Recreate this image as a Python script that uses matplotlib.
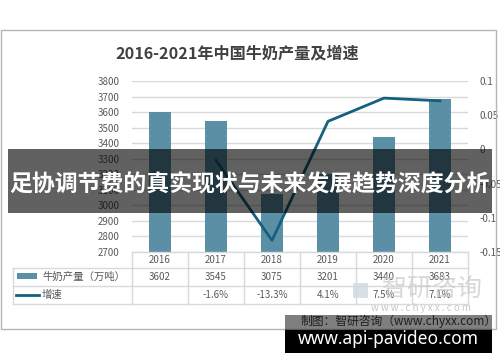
import matplotlib
matplotlib.use("Agg")
import matplotlib.pyplot as plt
from matplotlib.patches import Rectangle
from matplotlib.lines import Line2D
import numpy as np

plt.rcParams["font.family"] = ["Noto Sans CJK SC", "DejaVu Sans"]

# data
years = ["2016", "2017", "2018", "2019", "2020", "2021"]
output = [3602, 3545, 3075, 3201, 3440, 3683]
growth = [None, -0.016, -0.133, 0.041, 0.075, 0.071]
growth_labels = ["", "-1.6%", "-13.3%", "4.1%", "7.5%", "7.1%"]

W, H = 500, 362
BAR_COLOR = "#5b8fa6"
LINE_COLOR = "#14607e"
GRID = "#d9d9d9"
TXT = "#595959"

fig = plt.figure(figsize=(W / 100, H / 100), dpi=100)
fig.patch.set_facecolor("white")


def fx(x):
    return x / W


def fy(y):
    return 1 - y / H


# outer frame of the original chart
fig.add_artist(Rectangle((fx(1), fy(329)), fx(495), (329 - 30) / H, transform=fig.transFigure,
                         fill=False, edgecolor="#b4b4b4", lw=1))

# plot area
L, R, T, B = 132, 468, 81, 252
ax = fig.add_axes([fx(L), fy(B), (R - L) / W, (B - T) / H])
x = np.arange(len(years))
ax.bar(x, output, width=0.4, color=BAR_COLOR, zorder=2)
ax.set_xlim(-0.5, len(years) - 0.5)
ax.set_ylim(2700, 3800)
ax.set_yticks(np.arange(2700, 3801, 100))
ax.yaxis.grid(True, color=GRID, lw=1, zorder=0)
ax.set_xticks([])
for s in ax.spines.values():
    s.set_visible(False)
ax.tick_params(axis="y", length=0, pad=9, labelsize=7, labelcolor=TXT)

ax2 = ax.twinx()
gx = [i for i, g in enumerate(growth) if g is not None]
gy = [g for g in growth if g is not None]
ax2.plot(gx, gy, color=LINE_COLOR, lw=2, zorder=3)
ax2.set_ylim(-0.15, 0.1)
ax2.set_yticks([-0.15, -0.1, -0.05, 0, 0.05, 0.1])
ax2.set_yticklabels(["-0.15", "-0.1", "-0.05", "0", "0.05", "0.1"])
for s in ax2.spines.values():
    s.set_visible(False)
ax2.tick_params(axis="y", length=0, pad=8, labelsize=7, labelcolor=TXT)

# title
fig.text(fx(237), fy(53), "2016-2021年中国牛奶产量及增速", ha="center", va="center",
         fontsize=11.6, fontweight="bold", color="#404040")

# data table
col_w = (R - L) / len(years)
rows = [252, 268, 286, 304]


def hline(y, x0, x1):
    fig.add_artist(Line2D([fx(x0), fx(x1)], [fy(y), fy(y)], transform=fig.transFigure, color=GRID, lw=1))


def vline(xp, y0, y1):
    fig.add_artist(Line2D([fx(xp), fx(xp)], [fy(y0), fy(y1)], transform=fig.transFigure, color=GRID, lw=1))


hline(252, L, R)
for y in rows[1:]:
    hline(y, 13, R)
for k in range(len(years) + 1):
    vline(L + k * col_w, 252, 304)
vline(13, 268, 304)

for i, yr in enumerate(years):
    cx = fx(L + (i + 0.5) * col_w)
    fig.text(cx, fy(260), yr, ha="center", va="center", fontsize=7, color=TXT)
    fig.text(cx, fy(277), str(output[i]), ha="center", va="center", fontsize=7, color=TXT)
    fig.text(cx, fy(295), growth_labels[i], ha="center", va="center", fontsize=7, color=TXT)

fig.add_artist(Rectangle((fx(17), fy(279)), fx(20), 6 / H, transform=fig.transFigure,
                         color=BAR_COLOR, lw=0))
fig.add_artist(Line2D([fx(16), fx(39)], [fy(295), fy(295)], transform=fig.transFigure,
                      color=LINE_COLOR, lw=2))
fig.text(fx(42), fy(277), "牛奶产量（万吨）", ha="left", va="center", fontsize=7.5, color=TXT)
fig.text(fx(42), fy(295), "增速", ha="left", va="center", fontsize=7.5, color=TXT)

# watermark
fig.add_artist(Rectangle((fx(353), fy(298)), fx(15), 15 / H, transform=fig.transFigure,
                         color="#c5d3df", lw=0, alpha=0.7))
fig.text(fx(432), fy(289), "智研咨询", ha="center", va="center", fontsize=18,
         color="#c8c8c8", alpha=0.7)
fig.text(fx(421), fy(308), "w w w . c h y x x . c o m", ha="center", va="center",
         fontsize=7, color="#c8c8c8")

# source note
fig.add_artist(Rectangle((fx(285), fy(330)), fx(207), 15 / H, transform=fig.transFigure,
                         color="black", alpha=0.5, lw=0, zorder=5))
fig.text(fx(497), fy(321), "制图：智研咨询（www.chyxx.com）", ha="right", va="center",
         fontsize=8.5, color="#1e1e1e", zorder=6)

# dark overlay banner
fig.add_artist(Rectangle((fx(8), fy(213)), fx(484), 64 / H, transform=fig.transFigure,
                         color="black", alpha=0.62, lw=0, zorder=5))
fig.text(fx(249), fy(184), "足协调节费的真实现状与未来发展趋势深度分析", ha="center", va="center",
         fontsize=16.5, fontweight="bold", color="white", zorder=6)

# url banner
fig.add_artist(Rectangle((fx(285), fy(353)), fx(207), 23 / H, transform=fig.transFigure,
                         color="black", lw=0, zorder=5))
fig.text(fx(388), fy(339), "www.api-pavideo.com", ha="center", va="center",
         fontsize=12.5, fontweight="bold", color="white", family=["Noto Sans", "DejaVu Sans"], zorder=6)

fig.savefig("out.png", dpi=100)
